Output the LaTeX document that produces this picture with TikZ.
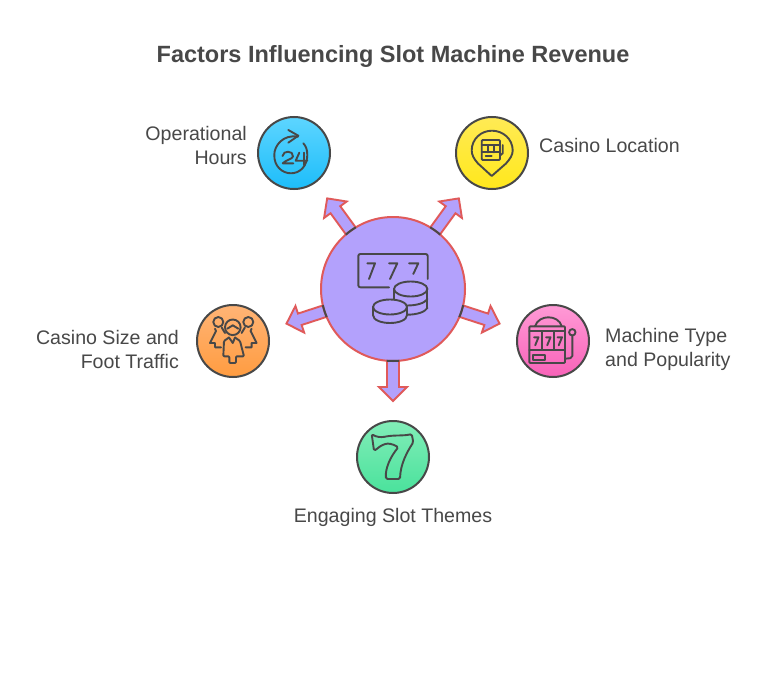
\documentclass[tikz,border=0pt]{standalone}
\usepackage{fontspec}
\usetikzlibrary{calc}
\setmainfont{Liberation Sans}
\definecolor{inkgrey}{HTML}{484848}
\definecolor{hubfill}{HTML}{B3A1FC}
\definecolor{hubred}{HTML}{E05A5A}
\definecolor{bluetop}{HTML}{5DD5FF}
\definecolor{bluebot}{HTML}{1DBDFA}
\definecolor{yellowtop}{HTML}{FFEA55}
\definecolor{yellowbot}{HTML}{FFE81C}
\definecolor{orangetop}{HTML}{FFB476}
\definecolor{orangebot}{HTML}{FF9C40}
\definecolor{pinktop}{HTML}{FF9AD6}
\definecolor{pinkbot}{HTML}{F862B8}
\definecolor{greentop}{HTML}{82EDB8}
\definecolor{greenbot}{HTML}{4AE29C}
\tikzset{
  topic/.style={circle,draw=inkgrey,line width=2pt,minimum size=72pt,inner sep=0pt},
  icon/.style={draw=inkgrey,line width=1.9pt,line cap=round,line join=round},
  label/.style={text=inkgrey,inner sep=0pt,font=\fontsize{19.6}{24}\selectfont},
  blockarrow/.style={draw=hubred,fill=hubfill,line width=1.9pt,line join=miter},
}
\begin{document}
\begin{tikzpicture}[x=1pt,y=-1pt]
  \useasboundingbox (0,0) rectangle (760,698);
  \fill[white] (0,0) rectangle (760,698);
  \node[text=inkgrey,inner sep=0pt,font=\fontsize{23.5}{28}\selectfont\bfseries] (title) at (393,56.5) {Factors Influencing Slot Machine Revenue};
  % arrows first, the hub covers their tails
  \coordinate (hubc) at (393,289);
  \foreach \ang in {126,54,198,-18,-90} {
    \begin{scope}[shift={(hubc)},rotate=\ang]
      \draw[blockarrow] (60,-6) -- (98,-6) -- (98,-14) -- (112,0) -- (98,14) -- (98,6) -- (60,6) -- cycle;
    \end{scope}
  }
  \node[circle,draw=hubred,fill=hubfill,line width=2pt,minimum size=144pt,inner sep=0pt] (hub) at (hubc) {};
  \foreach \ang in {126,54,198,-18,-90} {
    \draw[inkgrey,line width=2pt] ($(hubc)+(\ang-5:72pt)$) arc[start angle=\ang-5,end angle=\ang+5,radius=72pt];
  }
  % the five topics
  \node[topic,top color=bluetop,bottom color=bluebot] (hours) at (294,153) {};
  \node[topic,top color=yellowtop,bottom color=yellowbot] (location) at (492,153) {};
  \node[topic,top color=orangetop,bottom color=orangebot] (size) at (233,341) {};
  \node[topic,top color=pinktop,bottom color=pinkbot] (machine) at (553,341) {};
  \node[topic,top color=greentop,bottom color=greenbot] (themes) at (393,457) {};
  % labels
  \node[label,anchor=east,align=right] (hourslabel) at (247,145) {Operational\\Hours};
  \node[label,anchor=west] (locationlabel) at (539,145) {Casino Location};
  \node[label,anchor=east,align=right] (sizelabel) at (179,349) {Casino Size and\\Foot Traffic};
  \node[label,anchor=west,align=left] (machinelabel) at (605,349) {Machine Type\\and Popularity};
  \node[label] (themeslabel) at (393,517.5) {Engaging Slot Themes};
  % hub icon
  \draw[icon,rounded corners=2pt] (389,287.3) -- (358.3,287.3) -- (358.3,254) -- (427.7,254) -- (427.7,279);
  \draw[icon] (367.3,263.3) -- (375,263.3) -- (369,279);
  \draw[icon] (389,263.3) -- (397.3,263.3) -- (390,279);
  \draw[icon] (409,263.3) -- (418.3,263.3) -- (413.3,274);
  \draw[icon] (410.7,289) ellipse[x radius=16.7pt,y radius=7.5pt];
  \draw[icon] (394,289) -- (394,299);
  \draw[icon] (427.4,289) -- (427.4,308);
  \draw[icon] (427.4,299) .. controls (425,303) and (417,305.5) .. (407,305.5);
  \draw[icon] (427.4,308) .. controls (425,312) and (417,314.7) .. (407,314.7);
  \draw[icon] (390,307) ellipse[x radius=17pt,y radius=7.5pt];
  \draw[icon] (373,307) -- (373,315);
  \draw[icon] (407,307) -- (407,315);
  \draw[icon] (373,315) .. controls (373,320) and (381,323) .. (390,323) .. controls (399,323) and (407,320) .. (407,315);
  % 24 hours icon
  \draw[icon] (298,136.7) .. controls (283,134) and (274,146) .. (274.3,155) .. controls (274,166) and (282,173.3) .. (291,173.3) .. controls (300,173.3) and (307.3,166) .. (307.3,155) .. controls (307.3,150) and (306,146) .. (303.3,143.3);
  \draw[icon] (288.3,130) -- (298.3,135.7) -- (288.3,142.7);
  \draw[icon] (282.5,156) .. controls (283,153) and (285.5,151.7) .. (288,151.7) .. controls (291,151.7) and (293.3,153.5) .. (293,156.5) .. controls (292.5,159) and (285,160.5) .. (282.7,163.3) -- (293.3,163.3);
  \draw[icon] (299.3,152.7) -- (295.7,160.7) -- (307.3,160.7);
  \draw[icon] (304,152.7) -- (304,165);
  % pin icon
  \draw[icon] (491.7,176) -- (478,163.5) .. controls (474,159) and (471.7,155) .. (471.7,150.5) .. controls (471.7,139) and (481,130.7) .. (492,130.7) .. controls (503,130.7) and (512.7,139) .. (512.7,150.5) .. controls (512.7,155) and (510,159) .. (506,163.5) -- cycle;
  \draw[icon,rounded corners=1pt] (481.7,140) rectangle (500,160);
  \draw[icon] (481.7,145) -- (500,145);
  \draw[icon] (481.7,152.3) -- (500,152.3);
  \draw[icon] (487.7,145) -- (487.7,152.3);
  \draw[icon] (494.3,145) -- (494.3,152.3);
  \draw[icon] (485.7,155.7) -- (491.7,155.7);
  \draw[icon] (502.7,145) -- (502.7,153.3) -- (500,155.5);
  % people icon
  \draw[icon] (218.3,322) circle[radius=5pt];
  \draw[icon] (248.3,322) circle[radius=5pt];
  \draw[icon] (232.8,327.3) circle[radius=7.8pt];
  \draw[icon] (227.3,328.7) -- (232.8,325.3) -- (238.3,328.7);
  \draw[icon] (215,328.7) -- (216,331) -- (210,343) -- (215,343) -- (215,347.3) -- (221,347.3);
  \draw[icon] (221.7,327.5) -- (225,333);
  \draw[icon] (251.6,328.7) -- (250.6,331) -- (256.6,343) -- (251.6,343) -- (251.6,347.3) -- (245.6,347.3);
  \draw[icon] (244.9,327.5) -- (241.6,333);
  \draw[icon,rounded corners=1pt] (229,337.5) -- (224,341) -- (223.3,356.3) -- (229.3,356.3) -- (229.3,363) -- (236,363) -- (236,356.3) -- (244,356.3) -- (240,341) -- (235,337.5);
  \draw[icon] (229,337.5) -- (232.8,343) -- (235,337.5);
  % slot machine icon
  \draw[icon,rounded corners=1pt] (529.3,326.3) rectangle (565,363);
  \draw[icon] (535,326.3) .. controls (537,320) and (543,317.3) .. (548.3,317.3) .. controls (554,317.3) and (560,320) .. (561.7,326.3);
  \draw[icon] (529.3,331.3) -- (565,331.3);
  \draw[icon] (529.3,349.7) -- (565,349.7);
  \draw[icon] (541.7,331.3) -- (541.7,349.7);
  \draw[icon] (554.3,331.3) -- (554.3,349.7);
  \foreach \sx in {534,546,557.5} {
    \draw[icon] (\sx,337.3) -- (\sx+4.5,337.3) -- (\sx+1.2,345.3);
  }
  \draw[icon] (533.3,355.3) rectangle (545,359.7);
  \draw[icon] (572.3,332.3) circle[radius=3.2pt];
  \draw[icon,rounded corners=2pt] (572.3,335.5) -- (572.3,358) -- (565,358.7);
  % big seven icon
  \draw[icon,rounded corners=1.5pt] (371.7,434) .. controls (376,437) and (381,437.5) .. (386,436.5) .. controls (395,435) and (404,436) .. (411.7,434) -- (413.3,442.3) .. controls (407,452) and (400.5,464) .. (400,479) -- (386,479) .. controls (385,468) and (391,456) .. (398.3,447.3) .. controls (393,444) and (388,443) .. (384,444.5) .. controls (380,446) and (377,449) .. (374,450.7) -- cycle;
\end{tikzpicture}
\end{document}
